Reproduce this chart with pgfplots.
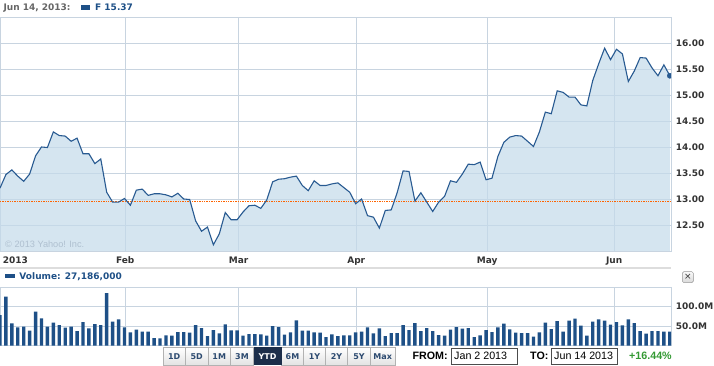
\documentclass[border=0pt]{standalone}
\usepackage{pgfplots}
\pgfplotsset{compat=1.18}
\usepackage{pgfplotstable}
\usepackage{fontspec}
\setmainfont{DejaVu Sans}
\newfontfamily\arial{Liberation Sans}
\definecolor{gridc}{RGB}{200,212,224}
\definecolor{areaf}{RGB}{196,218,235}
\definecolor{linec}{RGB}{40,90,145}
\definecolor{barc}{RGB}{30,80,135}
\definecolor{labc}{RGB}{51,51,51}
\definecolor{datec}{RGB}{102,102,102}
\definecolor{orangec}{RGB}{255,100,0}
\definecolor{greenc}{RGB}{51,153,51}
\definecolor{btntext}{RGB}{44,74,112}
\definecolor{ytdc}{RGB}{28,46,74}
\definecolor{wmark}{RGB}{175,192,208}
\definecolor{bandc}{RGB}{221,221,221}

\pgfplotstableread{
k p v
0 13.21 78.6
1 13.47 125.6
2 13.56 57.3
3 13.44 47.0
4 13.34 48.7
5 13.48 38.5
6 13.83 87.2
7 14.00 70.1
8 13.99 48.7
9 14.29 59.0
10 14.22 53.0
11 14.21 46.2
12 14.11 48.7
13 14.17 37.6
14 13.87 60.7
15 13.87 44.4
16 13.68 55.6
17 13.77 53.0
18 13.13 135.0
19 12.94 61.5
20 12.94 67.5
21 13.01 47.0
22 12.88 34.2
23 13.17 41.0
24 13.19 35.9
25 13.07 35.9
26 13.10 19.7
27 13.10 18.8
28 13.08 26.5
29 13.04 25.6
30 13.11 35.0
31 13.00 35.0
32 12.99 33.3
33 12.58 53.0
34 12.38 45.3
35 12.46 24.8
36 12.12 40.2
37 12.33 31.6
38 12.74 54.7
39 12.60 39.3
40 12.60 39.3
41 12.75 25.6
42 12.87 29.9
43 12.88 29.9
44 12.82 29.1
45 12.98 25.6
46 13.33 50.4
47 13.38 47.9
48 13.39 28.2
49 13.42 34.2
50 13.44 65.0
51 13.26 38.5
52 13.16 38.5
53 13.35 34.2
54 13.26 33.3
55 13.26 22.2
56 13.29 29.1
57 13.31 24.8
58 13.22 26.5
59 13.13 26.5
60 12.91 34.2
61 13.00 35.9
62 12.68 47.0
63 12.65 31.6
64 12.44 44.4
65 12.78 24.8
66 12.79 32.5
67 13.12 32.5
68 13.54 53.0
69 13.53 40.2
70 12.96 58.1
71 13.12 37.6
72 12.94 45.3
73 12.76 37.6
74 12.94 27.4
75 13.05 25.6
76 13.35 41.0
77 13.32 47.9
78 13.48 43.6
79 13.67 45.3
80 13.66 22.2
81 13.71 26.5
82 13.37 40.2
83 13.40 35.0
84 13.82 47.0
85 14.09 56.4
86 14.19 41.9
87 14.22 33.3
88 14.21 32.5
89 14.11 32.5
90 14.01 23.1
91 14.29 34.2
92 14.67 59.0
93 14.64 42.7
94 15.08 63.2
95 15.05 35.9
96 14.96 64.1
97 14.96 69.2
98 14.81 51.3
99 14.79 25.6
100 15.28 61.5
101 15.60 67.5
102 15.90 64.1
103 15.68 53.8
104 15.88 60.7
105 15.79 52.1
106 15.26 67.5
107 15.46 58.1
108 15.72 37.6
109 15.71 30.8
110 15.52 37.6
111 15.37 37.6
112 15.58 35.9
113 15.37 35.9
}\fdata

\pgfplotstableread{
x y
0 12.95
113.2 12.95
}\refline

\newcommand{\vb}{\fontsize{9}{10}\selectfont\bfseries}

\begin{document}
\begin{tikzpicture}[x=1pt,y=1pt]
\fill[white] (0,0) rectangle (714,366);

\begin{axis}[at={(0pt,115pt)}, anchor=south west, scale only axis,
  width=671pt, height=234pt,
  xmin=0, xmax=113.2, ymin=12, ymax=16.5,
  xtick={21.13,40.26,60.1,82.2,103.6}, xticklabels={Feb,Mar,Apr,May,Jun},
  ytick={12.5,13,13.5,14,14.5,15,15.5,16},
  yticklabels={12.50,13.00,13.50,14.00,14.50,15.00,15.50,16.00},
  yticklabel pos=right,
  grid=major, major grid style={gridc, line width=0.8pt},
  axis line style={gridc, line width=0.8pt},
  major tick length=0pt,
  tick label style={font=\vb, text=labc, inner sep=0pt},
  yticklabel style={anchor=west, xshift=4.7pt},
  xticklabel style={anchor=base, yshift=-12.3pt},
  clip marker paths=true,
]
\addplot[draw=none, fill=areaf, fill opacity=0.7] table[x=k,y=p]{\fdata} \closedcycle;
\addplot[draw=orangec, line width=1.4pt, dash pattern=on 1.4pt off 1pt] table[x=x,y=y]{\refline};
\addplot[linec, line width=1.1pt] table[x=k,y=p]{\fdata};
\addplot[only marks, mark=*, mark size=2.6pt, mark options={fill=linec, draw=linec}] coordinates {(113,15.37)};
\end{axis}

\begin{axis}[at={(0pt,20.3pt)}, anchor=south west, scale only axis,
  width=671pt, height=58.5pt,
  xmin=0, xmax=113.2, ymin=0, ymax=150,
  xtick={21.13,40.26,60.1,82.2,103.6}, xticklabels={},
  ytick={50,100}, yticklabels={50.0M,100.0M},
  yticklabel pos=right,
  grid=major, major grid style={gridc, line width=0.8pt},
  axis line style={gridc, line width=0.8pt},
  major tick length=0pt,
  tick label style={font=\vb, text=labc, inner sep=0pt},
  yticklabel style={anchor=west, xshift=4.7pt},
]
\addplot[ybar, bar width=3.4pt, bar shift=0pt, fill=barc, draw=none] table[x=k,y=v]{\fdata};
\end{axis}

% top legend
\node[anchor=base west, inner sep=0pt, text=datec, font=\vb] at (3.3,355.3) {Jun 14, 2013:};
\fill[barc] (80.7,356.3) rectangle (90,360.7);
\node[anchor=base west, inner sep=0pt, text=barc, font=\vb] at (95,355.3) {F 15.37};
% first x label
\node[anchor=base west, inner sep=0pt, text=labc, font=\vb] at (2.7,102.7) {2013};
% watermark
\node[anchor=base west, inner sep=0pt, text=wmark, font=\arial\fontsize{9.2}{10}\selectfont] at (5,118) {© 2013 Yahoo! Inc.};
% separator band
\fill[bandc] (0,96.5) rectangle (671,99);
% volume legend
\fill[barc] (5,87.7) rectangle (15,92);
\node[anchor=base west, inner sep=0pt, text=barc, font=\vb] at (19.3,86) {Volume: 27,186,000};
% close button
\draw[rounded corners=1.5pt, draw=gray!80, top color=gray!5, bottom color=gray!30] (682.3,83.3) rectangle (693.3,94.3);
\node[inner sep=0pt, text=labc, font=\fontsize{9}{9}\selectfont] at (687.8,88.8) {×};
% range buttons
\foreach \a/\b/\t in {163/185.5/1D, 185.5/208/5D, 208/230.5/1M, 230.5/253.5/3M, 281.5/303.5/6M, 303.5/325.5/1Y, 325.5/347.5/2Y, 347.5/370.5/5Y, 370.5/395/Max} {
  \draw[draw=gray!60, top color=white, bottom color=gray!22] (\a,1) rectangle (\b,18.5);
  \node[inner sep=0pt, anchor=base, text=btntext, font=\fontsize{8}{8}\selectfont\bfseries] at ({(\a+\b)/2},6) {\t};
}
\fill[ytdc] (253.5,1) rectangle (281.5,18.5);
\node[inner sep=0pt, anchor=base, text=white, font=\fontsize{8}{8}\selectfont\bfseries] at (267.5,6) {YTD};
% date range
\node[anchor=base west, inner sep=0pt, text=black, font=\arial\bfseries\fontsize{10.7}{12}\selectfont] at (412.3,6) {FROM:};
\draw[gray!60!black, fill=white] (451,2) rectangle (517,17.7);
\node[anchor=base west, inner sep=0pt, text=black, font=\arial\fontsize{10.7}{12}\selectfont] at (454,6) {Jan 2 2013};
\node[anchor=base west, inner sep=0pt, text=black, font=\arial\bfseries\fontsize{10.7}{12}\selectfont] at (530,6) {TO:};
\draw[gray!60!black, fill=white] (551,2) rectangle (617,17.7);
\node[anchor=base west, inner sep=0pt, text=black, font=\arial\fontsize{10.7}{12}\selectfont] at (554,6) {Jun 14 2013};
\node[anchor=base west, inner sep=0pt, text=greenc, font=\arial\bfseries\fontsize{10.7}{12}\selectfont] at (629,6) {+16.44\%};

\pgfresetboundingbox
\useasboundingbox (0,0) rectangle (714,366);
\end{tikzpicture}
\end{document}
